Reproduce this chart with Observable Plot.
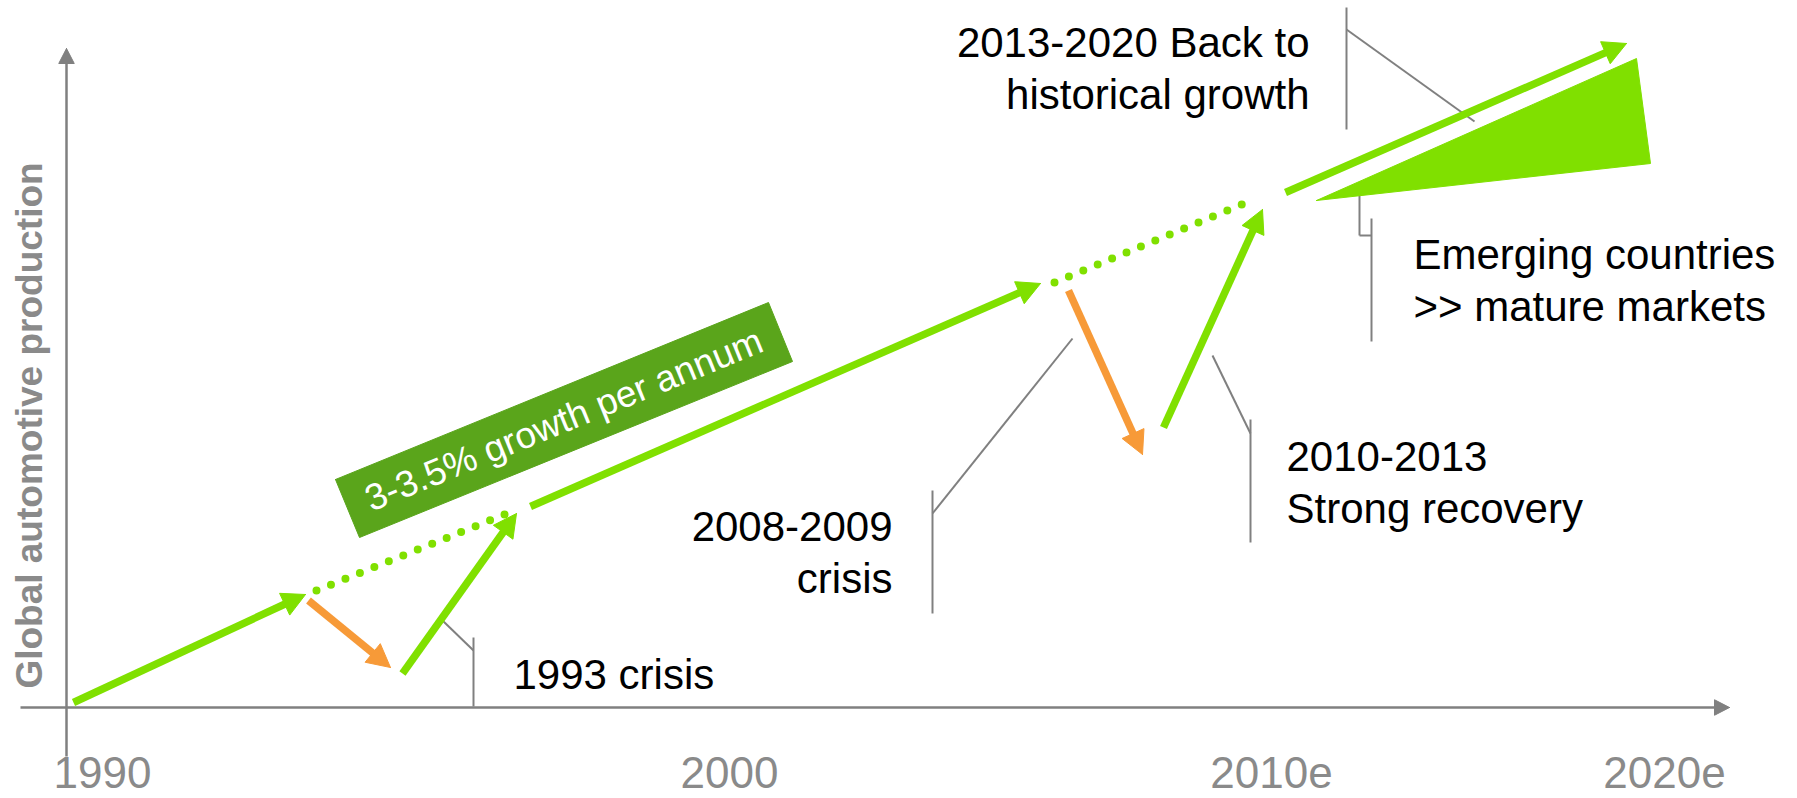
<!DOCTYPE html>
<html><head><meta charset="utf-8">
<script src="https://cdn.jsdelivr.net/npm/d3@7"></script>
<script src="https://cdn.jsdelivr.net/npm/@observablehq/plot@0.6"></script>
<style>
html,body{margin:0;padding:0;background:#fff;overflow:hidden;}
#chart svg{display:block;}
</style></head><body><div id="chart"></div>
<script>
// Conceptual diagram: x = time (abstract units), y = global automotive production (abstract units)
const xTickLabels = ["1990", "2000", "2010e", "2020e"];
const xTickValues = [3.6, 66.3, 120.5, 159.8];
const yAxisTitle = "Global automotive production";

// green growth arrows [x1, y1, x2, y2]
const growthArrows = [
  [0.7, 0.5, 23.9, 11.3],
  [33.6, 3.4, 45.0, 19.4],
  [46.4, 20.1, 97.4, 42.4],
  [109.7, 28.0, 119.6, 49.8],
  [121.9, 51.5, 156.0, 66.4]
];
// orange crisis arrows [x1, y1, x2, y2]
const crisisArrows = [
  [24.2, 10.7, 32.4, 4.0],
  [100.2, 41.7, 107.6, 25.3]
];
// dotted trend continuation [x1, y1, x2, y2]
const trendDotted = [
  [25.0, 11.7, 44.3, 19.5],
  [98.8, 42.5, 118.5, 50.7]
];
// emerging-markets wedge vertices
const wedgeX = [125.0, 157.0, 158.4];
const wedgeY = [50.7, 64.9, 54.4];
// growth-rate banner vertices
const bannerX = [26.9, 70.2, 72.6, 29.3];
const bannerY = [22.8, 40.5, 34.6, 17.0];
const bannerText = "3-3.5% growth per annum";

// callout bars [x, yTop, yBottom] and leader segments [x1, y1, x2, y2]
const calloutBars = [
  [40.7, 7.0, 0.1],
  [86.6, 21.7, 9.4],
  [118.4, 28.8, 16.5],
  [128.0, 70.0, 57.8],
  [130.5, 48.9, 36.6]
];
const calloutLeaders = [
  [40.7, 5.7, 37.6, 8.7],
  [86.6, 19.4, 100.6, 36.9],
  [118.4, 27.4, 114.6, 35.2],
  [128.0, 67.8, 140.8, 58.6],
  [129.3, 51.8, 129.3, 47.2],
  [129.3, 47.2, 130.5, 47.2]
];
const notes = ["1993 crisis", "2008-2009\ncrisis", "2010-2013\nStrong recovery", "2013-2020 Back to\nhistorical growth", "Emerging countries\n>> mature markets"];
const noteX = [44.7, 82.6, 122.0, 124.3, 134.7];
const noteY = [1.9, 11.5, 18.5, 59.9, 38.7];
const noteAlign = ["start", "end", "start", "end", "start"];

// axes [x1, y1, x2, y2]
const axisLines = [
  [-4.6, 0, 166.3, 0],
  [0, -4.9, 0, 65.9]
];

const LIME = "#80e000", ORANGE = "#f79a38", BANNER = "#5aa51b", GREY = "#808080";

function headPoly(a, id, L, W) {
  const [x1, y1, x2, y2] = a;
  const len = Math.hypot(x2 - x1, y2 - y1), ux = (x2 - x1) / len, uy = (y2 - y1) / len;
  const bx = x2 - ux * L, by = y2 - uy * L;
  return [
    {id, x: x2, y: y2},
    {id, x: bx - uy * W / 2, y: by + ux * W / 2},
    {id, x: bx + uy * W / 2, y: by - ux * W / 2},
    {id, x: x2, y: y2}
  ];
}
function shaft(a, L) {
  const [x1, y1, x2, y2] = a;
  const len = Math.hypot(x2 - x1, y2 - y1), ux = (x2 - x1) / len, uy = (y2 - y1) / len;
  return [x1, y1, x2 - ux * L, y2 - uy * L];
}
const HL = 2.3, HW = 2.4;
const greenHeads = growthArrows.flatMap((a, i) => headPoly(a, "g" + i, HL, HW));
const orangeHeads = crisisArrows.flatMap((a, i) => headPoly(a, "o" + i, HL, HW));
const axisHeads = axisLines.flatMap((a, i) => headPoly(a, "a" + i, 1.5, 1.55));
const wedgeRows = [0, 1, 2, 0].map(i => ({x: wedgeX[i], y: wedgeY[i]}));
const bannerRows = [0, 1, 2, 3, 0].map(i => ({x: bannerX[i], y: bannerY[i]}));
const bannerAngle = -Math.atan2(bannerY[1] - bannerY[0], bannerX[1] - bannerX[0]) * 180 / Math.PI;
const bannerCx = d3.mean(bannerX), bannerCy = d3.mean(bannerY);

const FONT = "'Liberation Sans', Arial, Helvetica, sans-serif";
const idx = notes.map((_, i) => i);

const chart = Plot.plot({
  width: 1797,
  height: 798,
  margin: 0,
  x: {domain: [-6.6, 173.1], axis: null},
  y: {domain: [-9.1, 70.7], axis: null},
  style: {fontFamily: FONT, background: "#fff", overflow: "visible"},
  marks: [
    // axes
    Plot.link(axisLines.map(a => shaft(a, 1.3)), {x1: d => d[0], y1: d => d[1], x2: d => d[2], y2: d => d[3], stroke: GREY, strokeWidth: 2.5}),
    Plot.line(axisHeads, {x: "x", y: "y", z: "id", fill: GREY, stroke: GREY, strokeWidth: 1}),
    // callouts
    Plot.link(calloutBars, {x1: d => d[0], y1: d => d[1], x2: d => d[0], y2: d => d[2], stroke: GREY, strokeWidth: 2}),
    Plot.link(calloutLeaders, {x1: d => d[0], y1: d => d[1], x2: d => d[2], y2: d => d[3], stroke: GREY, strokeWidth: 2}),
    // banner
    Plot.line(bannerRows, {x: "x", y: "y", fill: BANNER, stroke: BANNER, strokeWidth: 1}),
    Plot.text([bannerText], {x: () => bannerCx, y: () => bannerCy, text: d => d, rotate: bannerAngle, fill: "#fff", fontSize: 37, lineAnchor: "middle", textAnchor: "middle"}),
    // wedge
    Plot.line(wedgeRows, {x: "x", y: "y", fill: LIME, stroke: LIME, strokeWidth: 1}),
    // dotted trend
    Plot.link(trendDotted, {x1: d => d[0], y1: d => d[1], x2: d => d[2], y2: d => d[3], stroke: LIME, strokeWidth: 8, strokeLinecap: "round", strokeDasharray: "0 15.6"}),
    // arrows
    Plot.link(growthArrows.map(a => shaft(a, HL * 0.8)), {x1: d => d[0], y1: d => d[1], x2: d => d[2], y2: d => d[3], stroke: LIME, strokeWidth: 7.5, strokeLinecap: "butt"}),
    Plot.line(greenHeads, {x: "x", y: "y", z: "id", fill: LIME, stroke: LIME, strokeWidth: 1}),
    Plot.link(crisisArrows.map(a => shaft(a, HL * 0.8)), {x1: d => d[0], y1: d => d[1], x2: d => d[2], y2: d => d[3], stroke: ORANGE, strokeWidth: 7.5, strokeLinecap: "butt"}),
    Plot.line(orangeHeads, {x: "x", y: "y", z: "id", fill: ORANGE, stroke: ORANGE, strokeWidth: 1}),
    // notes
    Plot.text(idx.filter(i => noteAlign[i] === "start"), {x: i => noteX[i], y: i => noteY[i], text: i => notes[i], textAnchor: "start", lineAnchor: "bottom", fontSize: 42, lineHeight: 1.22, fill: "#000"}),
    Plot.text(idx.filter(i => noteAlign[i] === "end"), {x: i => noteX[i], y: i => noteY[i], text: i => notes[i], textAnchor: "end", lineAnchor: "bottom", fontSize: 42, lineHeight: 1.22, fill: "#000"}),
    // tick labels
    Plot.text(xTickLabels, {x: (d, i) => xTickValues[i], y: () => -8.0, text: d => d, textAnchor: "middle", lineAnchor: "bottom", fontSize: 44, fill: "#8a8a8a"}),
    // y axis title
    Plot.text([yAxisTitle], {x: () => -2.5, y: () => 28.2, text: d => d, rotate: -90, textAnchor: "middle", lineAnchor: "bottom", fontSize: 37, fontWeight: "bold", fill: "#8a8a8a"})
  ]
});
document.getElementById("chart").appendChild(chart);
</script>
</body></html>
